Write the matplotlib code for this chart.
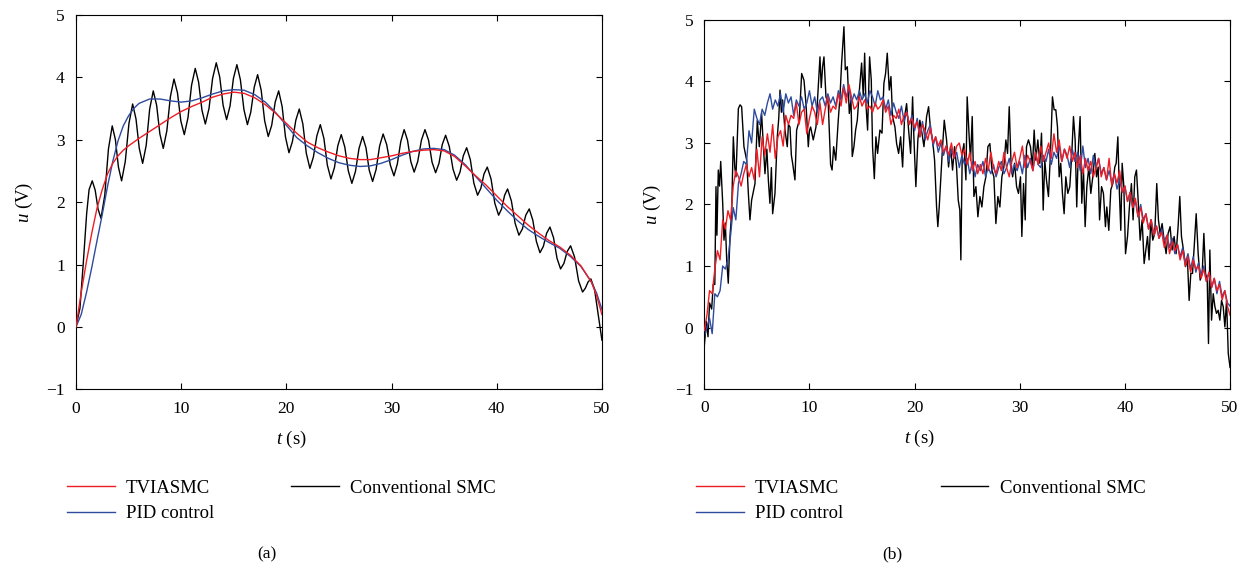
import numpy as np
import matplotlib
matplotlib.use('Agg')
import matplotlib.pyplot as plt

plt.rcParams['font.family'] = 'Liberation Serif'
plt.rcParams['mathtext.fontset'] = 'custom'
plt.rcParams['mathtext.rm'] = 'Liberation Serif'
plt.rcParams['mathtext.it'] = 'Liberation Serif:italic'

RED = '#ee1c24'
BLUE = '#2e4b9e'
BLACK = '#000000'

labels = ['TVIASMC', 'PID control', 'Conventional SMC']

# ---- panel (a): smooth responses
t_a = [0, 0.5, 1, 1.5, 2, 2.5, 3, 3.5, 4, 4.5, 5, 5.5, 6, 7, 8, 9, 10, 11, 12, 13, 14, 15,
       16, 17, 18, 19, 20, 21, 22, 23, 24, 25, 26, 27, 28, 29, 30, 31, 32, 33, 34, 35,
       36, 37, 38, 39, 40, 41, 42, 43, 44, 45, 46, 47, 48, 49, 49.5, 50]
u_tviasmc_a = [0, 0.55, 1.05, 1.5, 1.9, 2.2, 2.45, 2.62, 2.74, 2.83, 2.9, 2.96, 3.02, 3.13, 3.24,
               3.35, 3.45, 3.53, 3.6, 3.68, 3.73, 3.76, 3.74, 3.67, 3.56, 3.42, 3.26, 3.1,
               2.96, 2.87, 2.8, 2.74, 2.7, 2.68, 2.68, 2.71, 2.74, 2.78, 2.81, 2.83, 2.84,
               2.82, 2.73, 2.58, 2.42, 2.27, 2.1, 1.93, 1.78, 1.63, 1.5, 1.38, 1.28, 1.15,
               0.98, 0.72, 0.5, 0.2]
u_pid_a = [0, 0.2, 0.55, 0.95, 1.38, 1.8, 2.25, 2.65, 2.98, 3.22, 3.38, 3.5, 3.58, 3.65, 3.65,
           3.62, 3.6, 3.62, 3.67, 3.73, 3.78, 3.8, 3.79, 3.72, 3.6, 3.43, 3.23, 3.03, 2.9,
           2.79, 2.7, 2.63, 2.59, 2.57, 2.58, 2.62, 2.68, 2.75, 2.81, 2.85, 2.86, 2.84,
           2.75, 2.6, 2.41, 2.22, 2.03, 1.86, 1.7, 1.56, 1.45, 1.35, 1.26, 1.13, 0.97,
           0.72, 0.54, 0.28]

t_smc_a = [0, 0.38, 0.7, 1.02, 1.25, 1.55, 1.83, 2.10, 2.38, 2.74, 3.09, 3.45, 3.75, 4.04,
           4.34, 4.69, 5.04, 5.39, 5.71, 6.02, 6.34, 6.68, 7.01, 7.35, 7.67, 7.98, 8.3, 8.64,
           8.98, 9.32, 9.65, 9.97, 10.3, 10.65, 10.99, 11.34, 11.66, 11.98, 12.3, 12.65,
           12.99, 13.34, 13.67, 13.99, 14.32, 14.65, 14.97, 15.3, 15.63, 15.97, 16.3, 16.62,
           16.95, 17.27, 17.61, 17.94, 18.28, 18.61, 18.94, 19.27, 19.6, 19.92, 20.25,
           20.58, 20.9, 21.23, 21.57, 21.9, 22.24, 22.57, 22.9, 23.23, 23.57, 23.9, 24.24,
           24.57, 24.89, 25.22, 25.56, 25.89, 26.23, 26.57, 26.91, 27.25, 27.57, 27.88,
           28.2, 28.53, 28.87, 29.2, 29.54, 29.89, 30.23, 30.55, 30.88, 31.2, 31.52, 31.83,
           32.15, 32.49, 32.84, 33.18, 33.52, 33.85, 34.19, 34.51, 34.82, 35.14, 35.49,
           35.84, 36.19, 36.51, 36.82, 37.14, 37.49, 37.83, 38.18, 38.49, 38.79, 39.1,
           39.46, 39.82, 40.18, 40.46, 40.75, 41.03, 41.39, 41.75, 42.11, 42.44, 42.76,
           43.09, 43.43, 43.77, 44.11, 44.43, 44.74, 45.06, 45.4, 45.73, 46.07, 46.39,
           46.7, 47.02, 47.4, 47.78, 48.16, 48.42, 48.68, 48.95, 49.3, 49.6, 50]
u_smc_a = [0, 0.3, 1.03, 1.82, 2.2, 2.34, 2.19, 1.89, 1.74, 2.11, 2.85, 3.22, 3.0, 2.56,
           2.34, 2.65, 3.26, 3.57, 3.33, 2.86, 2.62, 2.91, 3.49, 3.78, 3.55, 3.09, 2.86, 3.14,
           3.69, 3.97, 3.75, 3.30, 3.08, 3.35, 3.87, 4.14, 3.92, 3.47, 3.25, 3.50,
           3.98, 4.23, 4.0, 3.55, 3.32, 3.54, 3.98, 4.2, 3.96, 3.48, 3.24, 3.44,
           3.84, 4.04, 3.79, 3.30, 3.05, 3.23, 3.60, 3.78, 3.53, 3.04, 2.79,
           2.97, 3.31, 3.49, 3.25, 2.78, 2.54, 2.72, 3.06, 3.24, 3.02, 2.59, 2.37,
           2.55, 2.9, 3.08, 2.88, 2.5, 2.30, 2.49, 2.86, 3.05, 2.87, 2.51,
           2.33, 2.52, 2.9, 3.09, 2.92, 2.59, 2.42, 2.61, 2.97, 3.16, 2.99, 2.65,
           2.48, 2.65, 2.99, 3.16, 2.99, 2.64, 2.47, 2.62, 2.92, 3.07, 2.89,
           2.53, 2.35, 2.48, 2.74, 2.87, 2.68, 2.30, 2.11, 2.22, 2.45, 2.56,
           2.37, 1.98, 1.79, 1.89, 2.11, 2.21, 2.02, 1.66, 1.47, 1.57, 1.79,
           1.89, 1.71, 1.37, 1.19, 1.29, 1.5, 1.6, 1.43, 1.1, 0.93, 1.02,
           1.21, 1.30, 1.12, 0.74, 0.56, 0.62, 0.72, 0.77, 0.6, 0.25, -0.21]

# ---- panel (b): measured responses with noise, sampled every 0.25 s
t_b = np.linspace(0, 50, 201)
u_tviasmc_b = [
    -0.05, 0.2, 0.6, 0.55, 0.95, 1.25, 1.1, 1.75, 1.6, 1.9,
    1.75, 2.3, 2.55, 2.45, 2.3, 2.5, 2.65, 2.45, 2.6, 2.4,
    2.9, 2.45, 3.1, 2.8, 3.15, 2.85, 3.3, 2.75, 3.1, 3.2,
    2.95, 3.45, 3.3, 3.45, 3.4, 3.65, 3.3, 3.5, 3.55, 3.15,
    3.4, 3.6, 3.5, 3.3, 3.65, 3.3, 3.55, 3.75, 3.5, 3.6,
    3.55, 3.8, 3.6, 3.9, 3.65, 3.95, 3.75, 3.55, 3.6, 3.75,
    3.6, 3.7, 3.55, 3.6, 3.5, 3.65, 3.55, 3.6, 3.7, 3.5,
    3.6, 3.3, 3.45, 3.4, 3.55, 3.3, 3.45, 3.5, 3.3, 3.4,
    3.25, 3.35, 3.1, 3.3, 3.2, 3.05, 3.25, 3.0, 3.1, 2.95,
    3.05, 2.85, 2.95, 2.8, 3.0, 2.75, 2.95, 3.0, 2.8, 2.9,
    2.65, 2.85, 2.55, 2.7, 2.5, 2.65, 2.5, 2.75, 2.55, 2.85,
    2.6, 2.5, 2.7, 2.55, 2.85, 2.6, 2.45, 2.7, 2.85, 2.6,
    2.75, 2.95, 2.6, 2.8, 2.7, 2.55, 2.85, 2.65, 2.95, 2.7,
    2.85, 3.0, 2.75, 3.15, 2.85, 3.05, 2.7, 2.9, 2.75, 2.95,
    2.7, 2.85, 2.6, 2.8, 2.5, 2.75, 2.55, 2.7, 2.45, 2.6,
    2.75, 2.45, 2.6, 2.4, 2.75, 2.3, 2.5, 2.35, 2.55, 2.2,
    2.3, 2.05, 2.2, 1.95, 2.1, 1.8, 1.95, 1.7, 1.85, 1.6,
    1.75, 1.5, 1.65, 1.45, 1.55, 1.3, 1.5, 1.2, 1.4, 1.25,
    1.35, 1.1, 1.25, 1.0, 1.15, 0.9, 1.1, 0.95, 1.0, 0.8,
    0.95, 0.75, 0.9, 0.65, 0.8, 0.6, 0.7, 0.45, 0.6, 0.35,
    0.2]
u_pid_b = [
    -0.15, 0.0, 0.15, -0.1, 0.55, 0.5, 0.6, 1.0, 0.95, 1.1,
    1.5, 1.95, 1.75, 2.35, 2.5, 2.7, 2.65, 3.2, 3.0, 3.55,
    3.4, 3.3, 3.55, 3.45, 3.65, 3.8, 3.55, 3.7, 3.6, 3.8,
    3.5, 3.8, 3.65, 3.75, 3.45, 3.7, 3.6, 3.75, 3.55, 3.65,
    3.85, 3.6, 3.75, 3.5, 3.7, 3.75, 3.6, 3.8, 3.65, 3.75,
    3.6, 3.85, 3.7, 3.95, 3.75, 3.9, 3.65, 3.8, 3.7, 3.85,
    3.7, 3.8, 3.65, 3.85, 3.75, 3.6, 3.85, 3.7, 3.75, 3.55,
    3.7, 3.45, 3.65, 3.5, 3.4, 3.6, 3.35, 3.5, 3.3, 3.45,
    3.2, 3.4, 3.1, 3.35, 3.05, 3.2, 3.3, 2.95, 3.1, 2.85,
    3.0, 2.8, 2.95, 2.7, 2.9, 2.75, 2.85, 2.6, 2.8, 2.65,
    2.75, 2.5, 2.7, 2.45, 2.65, 2.55, 2.7, 2.45, 2.6, 2.5,
    2.65, 2.45, 2.6, 2.7, 2.5, 2.6, 2.75, 2.5, 2.65, 2.55,
    2.7, 2.5, 2.8, 2.6, 2.75, 2.55, 2.85, 2.65, 2.6, 2.8,
    2.7, 2.9, 2.65, 2.85, 2.75, 2.95, 2.7, 2.9, 2.8, 2.6,
    2.9, 2.7, 2.85, 2.55, 2.95, 2.6, 2.75, 2.5, 2.8, 2.6,
    2.75, 2.5, 2.6, 2.4, 2.55, 2.35, 2.5, 2.25, 2.4, 2.2,
    2.3, 2.05, 2.2, 1.95, 2.05, 1.8, 2.0, 1.75, 1.85, 1.6,
    1.75, 1.5, 1.65, 1.45, 1.6, 1.4, 1.5, 1.3, 1.45, 1.2,
    1.35, 1.15, 1.3, 1.05, 1.2, 0.95, 1.15, 0.9, 1.05, 0.85,
    1.0, 0.75, 0.9, 0.65, 0.8, 0.55, 0.75, 0.5, 0.6, 0.4,
    0.35]

t_smc_b = [0, 0.2, 0.35, 0.5, 0.7, 0.85, 1.0, 1.11, 1.2, 1.33, 1.45, 1.56, 1.75, 1.87, 2.0,
           2.13, 2.28, 2.45, 2.6, 2.76, 2.9, 3.01, 3.24, 3.4, 3.55, 3.77, 4.03, 4.19, 4.34,
           4.5, 4.65, 4.82, 5.04, 5.23, 5.45, 5.6, 5.77, 5.95, 6.09, 6.24, 6.38, 6.5, 6.72,
           6.94, 7.08, 7.2, 7.33, 7.45, 7.67, 7.89, 8.0, 8.15, 8.28, 8.4, 8.62, 8.78, 9.03,
           9.26, 9.48, 9.67, 9.89, 10.0, 10.11, 10.36, 10.62, 10.84, 11.0, 11.12, 11.25,
           11.38, 11.57, 11.79, 12.01, 12.15, 12.3, 12.5, 12.74, 12.9, 13.06, 13.28, 13.41,
           13.6, 13.79, 13.95, 14.07, 14.23, 14.39, 14.55, 14.75, 14.96, 15.12, 15.25,
           15.37, 15.53, 15.72, 15.88, 16.0, 16.17, 16.32, 16.48, 16.7, 16.9, 17.08, 17.24,
           17.4, 17.59, 17.75, 17.9, 18.13, 18.29, 18.48, 18.67, 18.86, 19.05, 19.24,
           19.43, 19.62, 19.81, 19.93, 20.12, 20.31, 20.5, 20.7, 20.89, 21.14, 21.33,
           21.52, 21.71, 21.9, 22.09, 22.21, 22.34, 22.5, 22.66, 22.82, 23.04, 23.23,
           23.42, 23.61, 23.8, 23.99, 24.15, 24.3, 24.4, 24.53, 24.69, 24.88, 25.0, 25.19,
           25.32, 25.48, 25.64, 25.83, 26.02, 26.21, 26.4, 26.59, 26.78, 26.97, 27.16,
           27.35, 27.54, 27.73, 27.92, 28.11, 28.3, 28.49, 28.68, 28.84, 29.0, 29.16,
           29.32, 29.51, 29.7, 29.88, 30.07, 30.2, 30.36, 30.52, 30.64, 30.83, 31.02,
           31.21, 31.37, 31.53, 31.72, 31.91, 32.07, 32.23, 32.38, 32.54, 32.73, 32.92,
           33.11, 33.27, 33.43, 33.59, 33.75, 33.9, 34.06, 34.22, 34.38, 34.57, 34.76,
           34.95, 35.11, 35.27, 35.42, 35.58, 35.74, 35.9, 36.06, 36.22, 36.38, 36.57,
           36.76, 36.98, 37.14, 37.3, 37.46, 37.59, 37.78, 37.96, 38.15, 38.28, 38.47,
           38.66, 38.85, 39.04, 39.17, 39.33, 39.48, 39.61, 39.74, 39.9, 40.06, 40.25,
           40.43, 40.62, 40.78, 40.94, 41.1, 41.26, 41.45, 41.64, 41.83, 41.99, 42.15,
           42.3, 42.46, 42.65, 42.84, 43.03, 43.19, 43.35, 43.54, 43.73, 43.92, 44.11,
           44.3, 44.49, 44.68, 44.87, 45.06, 45.22, 45.38, 45.57, 45.76, 45.95, 46.11,
           46.27, 46.43, 46.59, 46.78, 46.97, 47.16, 47.35, 47.51, 47.67, 47.83, 47.95,
           48.08, 48.24, 48.4, 48.56, 48.71, 48.87, 49.03, 49.19, 49.35, 49.51, 49.67,
           49.83, 50.0]
u_smc_b = [-0.3, 0.1, -0.15, 0.4, 0.3, 0.7, 0.7, 2.29, 1.5, 2.56, 2.3, 2.7, 2.02, 1.42, 1.7,
           1.1, 0.72, 1.5, 1.85, 3.1, 2.6, 2.45, 3.56, 3.62, 3.59, 2.94, 2.72, 2.18, 1.75,
           2.07, 2.2, 2.34, 3.37, 2.94, 3.48, 3.0, 2.5, 2.9, 2.4, 2.02, 2.6, 1.85, 2.18,
           3.1, 3.4, 3.86, 3.5, 3.7, 3.21, 2.94, 3.3, 3.26, 2.8, 2.67, 2.4, 3.21, 3.37,
           4.13, 4.02, 3.64, 2.94, 3.2, 3.26, 3.05, 3.26, 3.92, 4.4, 3.9, 4.24,
           4.4, 3.75, 3.64, 2.65, 2.56, 2.94, 2.72, 3.37, 3.75, 4.3, 4.89, 4.19,
           4.24, 3.48, 3.7, 2.78, 2.94, 3.21, 3.37, 3.86, 4.3, 3.75, 4.46,
           3.64, 3.21, 4.4, 4.02, 2.94, 2.42, 3.1, 2.83, 3.21, 3.16, 3.97, 4.13,
           4.46, 3.86, 4.08, 3.43, 3.26, 2.99, 2.83, 3.1, 2.61, 3.43, 3.64,
           3.21, 2.83, 3.75, 3.1, 2.29, 3.05, 3.37, 3.16, 2.94, 3.43, 3.59,
           3.21, 3.05, 2.72, 1.96, 1.64, 1.96, 2.45, 2.94, 3.37, 3.05, 2.61,
           2.94, 2.56, 2.94, 2.61, 2.07, 1.91, 1.1, 2.83, 2.99, 2.4, 3.75, 3.1,
           2.72, 3.43, 2.13, 2.29, 1.8, 2.13, 1.96, 2.29, 2.45, 2.94, 2.99,
           2.56, 2.45, 1.69, 2.13, 1.96, 2.45, 2.61, 3.05, 2.83, 3.59, 2.72,
           2.45, 2.67, 2.29, 2.18, 2.45, 1.48, 2.34, 1.75, 2.94, 3.05, 2.94,
           2.61, 3.21, 2.72, 3.05, 2.67, 3.16, 1.91, 2.72, 2.4, 2.13, 2.83,
           3.75, 3.54, 3.54, 3.26, 2.45, 2.67, 2.18, 1.85, 2.45, 2.18, 2.29,
           2.83, 3.43, 3.05, 1.96, 2.94, 3.43, 2.02, 2.56, 1.64, 2.29, 2.61,
           2.18, 2.5, 2.83, 2.45, 2.61, 1.75, 2.29, 2.18, 1.64, 1.96, 1.58,
           2.24, 2.34, 2.61, 2.67, 3.1, 2.18, 1.58, 2.67, 2.29, 1.2, 1.48,
           1.96, 2.34, 1.75, 2.45, 2.56, 2.07, 1.42, 1.75, 1.04, 1.26, 1.48,
           1.1, 1.75, 1.42, 1.53, 2.34, 1.75, 1.53, 1.69, 1.42, 1.2, 1.53,
           1.64, 1.26, 1.48, 1.2, 1.64, 2.13, 1.48, 1.26, 0.99, 1.1, 0.44,
           0.88, 0.88, 1.31, 1.85, 1.2, 0.77, 0.88, 1.53, 0.88, 0.77, -0.26,
           1.26, 0.12, 0.55, 0.34, 0.23, 0.28, 0.12, 0.44, 0.34, 0.01, 0.44,
           -0.42, -0.65]

fig = plt.figure(figsize=(12.47, 5.69), dpi=100)
ax1 = fig.add_axes([0.0609, 0.3155, 0.4218, 0.6587])
ax2 = fig.add_axes([0.5648, 0.3163, 0.4216, 0.6486])

lw = 1.0
ax1.plot(t_a, u_tviasmc_a, color=RED, lw=lw, label=labels[0], zorder=3)
ax1.plot(t_a, u_pid_a, color=BLUE, lw=lw, label=labels[1], zorder=2)
ax1.plot(t_smc_a, u_smc_a, color=BLACK, lw=lw, label=labels[2], zorder=1)

ax2.plot(t_smc_b, u_smc_b, color=BLACK, lw=lw, label=labels[2], zorder=1)
ax2.plot(t_b, u_pid_b, color=BLUE, lw=lw, label=labels[1], zorder=2)
ax2.plot(t_b, u_tviasmc_b, color=RED, lw=lw, label=labels[0], zorder=3)

legend_pos = {ax1: (0.0537, 0.157, 4.1), ax2: (0.558, 0.157, 5.2)}
for ax, tag, tag_x in [(ax1, '(a)', 267), (ax2, '(b)', 892)]:
    ax.set_xlim(0, 50)
    ax.set_ylim(-1, 5)
    ax.set_xticks([0, 10, 20, 30, 40, 50])
    ax.set_yticks([-1, 0, 1, 2, 3, 4, 5])
    ax.tick_params(direction='in', top=True, right=True, length=4.5, width=0.8,
                   labelsize=12.5, pad=8)
    for s in ax.spines.values():
        s.set_linewidth(0.8)
    ax.set_xlabel(r'$t$ (s)', fontsize=13.5)
    ax.xaxis.set_label_coords(0.41, -0.105)
    ax.set_ylabel(r'$u$ (V)', fontsize=13.5, va='center')
    ax.yaxis.set_label_coords(-0.098, 0.5)

    h, l = ax.get_legend_handles_labels()
    order = [l.index(x) for x in labels]
    lx, ly, cs = legend_pos[ax]
    ax.legend([h[i] for i in order], labels, ncol=2, frameon=False, fontsize=13.5,
              loc='upper left', bbox_to_anchor=(lx, ly), bbox_transform=fig.transFigure,
              borderpad=0, borderaxespad=0, handlelength=2.55, handletextpad=0.6,
              columnspacing=cs, labelspacing=0.45)
    fig.text(tag_x / 1247, 1 - 554 / 569, tag, ha='center', va='center', fontsize=12.5)

fig.savefig('out.png', dpi=100)
